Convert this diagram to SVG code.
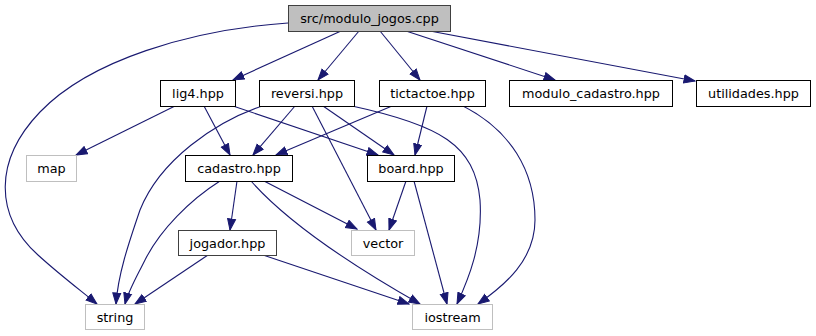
<svg xmlns="http://www.w3.org/2000/svg" width="816" height="336" viewBox="0 0 816 336">
  <style>
    .node rect { fill: #ffffff; stroke: #000000; stroke-width: 1; }
    .node.root rect { fill: #bfbfbf; stroke: #404040; }
    .node.dim rect { stroke: #404040; }
    .node.sys rect { stroke: #bfbfbf; }
    .node text { font-family: "DejaVu Sans", sans-serif; font-size: 12.8px; fill: #000000; text-anchor: middle; }
    #edges path { fill: none; stroke: #191970; stroke-width: 1.1; marker-end: url(#arrow); }
  </style>
  <defs>
    <marker id="arrow" markerUnits="userSpaceOnUse" markerWidth="13" markerHeight="11" refX="11.5" refY="5" orient="auto">
      <path d="M0.5,1 L11.5,5 L0.5,9 Z" fill="#191970" stroke="#191970" stroke-width="1"/>
    </marker>
  </defs>
  <rect width="816" height="336" fill="#ffffff"/>

  <g id="edges">
    <!-- src/modulo_jogos.cpp -->
    <path d="M341,31 L233,80"/>
    <path d="M359,31 L318,80"/>
    <path d="M380,31 L420,80"/>
    <path d="M406,31 L555,80"/>
    <path d="M430,31 L695,81"/>
    <path d="M288,23 C190,30 90,60 40,112 C-6,160 -6,215 38,255 C60,275 80,290 97,304"/>
    <!-- lig4.hpp -->
    <path d="M175,106 L76,155"/>
    <path d="M204,106 L230,155"/>
    <path d="M233,106 L378,155"/>
    <!-- reversi.hpp -->
    <path d="M295,106 L253,155"/>
    <path d="M323,106 L394,155"/>
    <path d="M312,106 L376,230"/>
    <path d="M262,106 C215,122 160,160 140,210 C128,245 118,275 116,304"/>
    <path d="M352,106 C440,125 475,145 480,200 C483,245 468,280 457,304"/>
    <!-- tictactoe.hpp -->
    <path d="M392,106 L276,155"/>
    <path d="M427,106 L415,155"/>
    <path d="M463,106 C510,130 535,170 535,220 C535,260 505,285 478,304"/>
    <!-- cadastro.hpp -->
    <path d="M237,181 L230,230"/>
    <path d="M264,181 L357,229"/>
    <path d="M220,181 C190,200 160,230 145,260 C135,280 128,292 125,304"/>
    <path d="M251,181 C290,225 360,270 420,304"/>
    <!-- board.hpp -->
    <path d="M406,181 L389,230"/>
    <path d="M414,181 L447,304"/>
    <!-- jogador.hpp -->
    <path d="M208,255 L135,304"/>
    <path d="M263,255 L409,304"/>
  </g>

  <g id="node-root" class="node root">
    <rect x="288.5" y="5.5" width="162" height="26"/>
    <text x="369.5" y="23">src/modulo_jogos.cpp</text>
  </g>
  <g id="node-lig4" class="node">
    <rect x="160.5" y="80.5" width="75" height="26"/>
    <text x="198" y="98">lig4.hpp</text>
  </g>
  <g id="node-reversi" class="node">
    <rect x="259.5" y="80.5" width="95" height="26"/>
    <text x="307" y="98">reversi.hpp</text>
  </g>
  <g id="node-tictactoe" class="node">
    <rect x="379.5" y="80.5" width="106" height="26"/>
    <text x="432.5" y="98">tictactoe.hpp</text>
  </g>
  <g id="node-modulo-cadastro" class="node">
    <rect x="509.5" y="80.5" width="163" height="26"/>
    <text x="591" y="98">modulo_cadastro.hpp</text>
  </g>
  <g id="node-utilidades" class="node">
    <rect x="696.5" y="80.5" width="114" height="26"/>
    <text x="753.5" y="98">utilidades.hpp</text>
  </g>
  <g id="node-map" class="node sys">
    <rect x="26.5" y="155.5" width="50" height="26"/>
    <text x="51.5" y="173">map</text>
  </g>
  <g id="node-cadastro" class="node">
    <rect x="185.5" y="155.5" width="107" height="26"/>
    <text x="239" y="173">cadastro.hpp</text>
  </g>
  <g id="node-board" class="node">
    <rect x="367.5" y="155.5" width="87" height="26"/>
    <text x="411" y="173">board.hpp</text>
  </g>
  <g id="node-jogador" class="node dim">
    <rect x="178.5" y="230.5" width="98" height="25"/>
    <text x="227.5" y="247.5">jogador.hpp</text>
  </g>
  <g id="node-vector" class="node sys">
    <rect x="351.5" y="230.5" width="63" height="25"/>
    <text x="383" y="247.5">vector</text>
  </g>
  <g id="node-string" class="node sys">
    <rect x="85.5" y="304.5" width="59" height="25"/>
    <text x="115" y="321.5">string</text>
  </g>
  <g id="node-iostream" class="node sys">
    <rect x="412.5" y="304.5" width="80" height="25"/>
    <text x="452.5" y="321.5">iostream</text>
  </g>
</svg>
